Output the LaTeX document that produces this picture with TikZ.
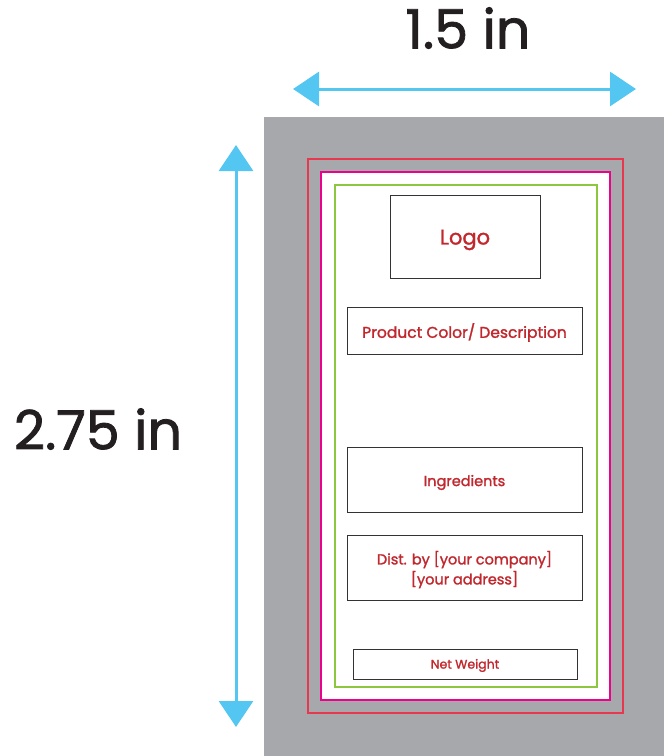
\documentclass[tikz,border=0pt]{standalone}
\usepackage{fontspec}
\setmainfont{Poppins}[FakeBold=1.5]
\newfontfamily\medfont{Poppins}[FakeBold=1.5]
\usetikzlibrary{arrows.meta}
\definecolor{bggray}{HTML}{A7A8AB}
\definecolor{bleedred}{HTML}{E8384F}
\definecolor{trimpink}{HTML}{EC008C}
\definecolor{safegreen}{HTML}{8DC63F}
\definecolor{dimblue}{HTML}{54C6F2}
\definecolor{labelred}{HTML}{C1272D}
\definecolor{dimtext}{HTML}{231F20}
\tikzset{
  fieldbox/.style={draw=black!80, line width=0.9pt, fill=white, align=center, inner sep=0pt},
  fieldtext/.style={text=labelred, align=center, inner sep=0pt},
  dimarrow/.style={draw=dimblue, line width=3pt, {Triangle[length=26pt,width=34pt]}-{Triangle[length=26pt,width=34pt]}},
  dimlabel/.style={text=dimtext, inner sep=0pt, font=\medfont\fontsize{54}{60}\selectfont}
}
\begin{document}
\begin{tikzpicture}[x=1pt,y=-1pt]
\useasboundingbox (0,0) rectangle (664,756);
% background
\fill[bggray] (264,117) rectangle (664,756);
\draw[bleedred, line width=2pt] (308,159) rectangle (623,713);
\draw[trimpink, line width=2pt, fill=white] (321,172) rectangle (610,700);
\draw[safegreen, line width=2pt] (335,185) rectangle (597,687);
% fields
\node[fieldbox, minimum width=150pt, minimum height=83pt] (logo) at (465,236.5) {};
\node[fieldtext, font=\medfont\fontsize{21}{24}\selectfont] (logot) at (465,240) {Logo};
\node[fieldbox, minimum width=235pt, minimum height=47pt] (prod) at (464.5,330.5) {};
\node[fieldtext, font=\medfont\fontsize{15.5}{18}\selectfont] (prodt) at (464.5,332.5) {Product Color/ Description};
\node[fieldbox, minimum width=235pt, minimum height=65pt] (ingr) at (464.5,479.5) {};
\node[fieldtext, font=\medfont\fontsize{14.5}{17}\selectfont] (ingrt) at (464.5,482.5) {Ingredients};
\node[fieldbox, minimum width=235pt, minimum height=65pt] (dist) at (464.5,567.5) {};
\node[fieldtext, font=\medfont\fontsize{14.5}{20}\selectfont] (distt) at (464.5,569.5) {Dist. by {[}your company{]}\\ {[}your address{]}};
\node[fieldbox, minimum width=224pt, minimum height=30pt] (net) at (465,664) {};
\node[fieldtext, font=\medfont\fontsize{12.5}{15}\selectfont] (nett) at (465,665.5) {Net Weight};
% dimensions
\coordinate (hl) at (293,89);
\coordinate (hr) at (636,89);
\coordinate (vt) at (236,145);
\coordinate (vb) at (236,727);
\draw[dimarrow] (hl) -- (hr);
\draw[dimarrow] (vt) -- (vb);
\node[dimlabel] (wlab) at (468,28) {1.5 in};
\node[dimlabel] (hlab) at (98,429) {2.75 in};
\end{tikzpicture}
\end{document}
